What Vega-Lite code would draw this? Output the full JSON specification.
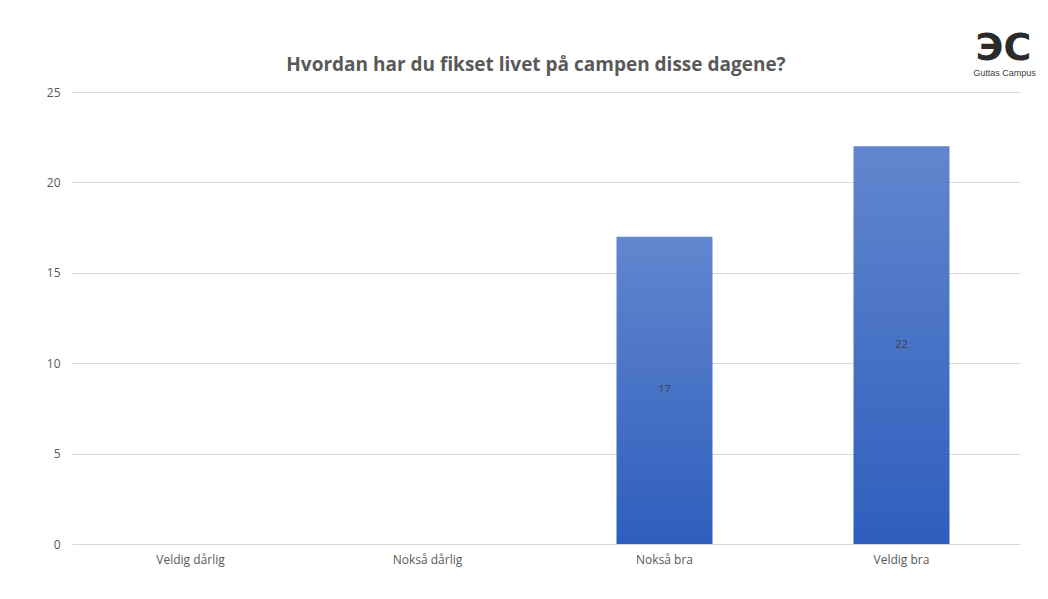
{
  "$schema": "https://vega.github.io/schema/vega-lite/v6.json",
  "autosize": "none",
  "width": 948,
  "height": 452,
  "padding": {"left": 72, "top": 92, "right": 28, "bottom": 55},
  "background": "white",
  "config": {"view": {"stroke": null}, "font": "Open Sans"},
  "title": {
    "text": "Hvordan har du fikset livet på campen disse dagene?",
    "fontSize": 19,
    "fontWeight": "bold",
    "font": "Open Sans",
    "color": "#595959",
    "offset": 17,
    "dx": -10,
    "dy": 62
  },
  "data": {
    "values": [
      {"category": "Veldig dårlig", "value": 0},
      {"category": "Nokså dårlig", "value": 0},
      {"category": "Nokså bra", "value": 17},
      {"category": "Veldig bra", "value": 22}
    ]
  },
  "layer": [
    {
      "mark": {
        "type": "bar",
        "color": {
          "gradient": "linear",
          "x1": 0, "y1": 0, "x2": 0, "y2": 1,
          "stops": [
            {"offset": 0, "color": "#6286ce"},
            {"offset": 1, "color": "#2e5ebd"}
          ]
        }
      },
      "encoding": {
        "x": {
          "field": "category",
          "type": "nominal",
          "sort": null,
          "scale": {"paddingInner": 0.595, "paddingOuter": 0.2975},
          "axis": {
            "title": null,
            "labelAngle": 0,
            "labelColor": "#595959",
            "labelFontSize": 12,
            "labelPadding": 10,
            "ticks": false,
            "domain": false,
            "grid": false
          }
        },
        "y": {
          "field": "value",
          "type": "quantitative",
          "scale": {"domain": [0, 25]},
          "axis": {
            "title": null,
            "values": [0, 5, 10, 15, 20, 25],
            "labelColor": "#595959",
            "labelFontSize": 12,
            "labelPadding": 12,
            "ticks": false,
            "domain": false,
            "gridColor": "#d9d9d9",
            "gridWidth": 1
          }
        }
      }
    },
    {
      "transform": [{"filter": "datum.value > 0"}],
      "mark": {"type": "text", "color": "#404040", "fontSize": 11, "baseline": "middle"},
      "encoding": {
        "x": {"field": "category", "type": "nominal", "sort": null},
        "y": {"field": "value", "type": "quantitative", "scale": {"domain": [0, 50]}, "axis": null},
        "text": {"field": "value", "type": "quantitative"}
      }
    },
    {
      "data": {"values": [{"category": "Veldig bra", "logo": "ЭC", "name": "Guttas Campus", "pos": 25}]},
      "layer": [
        {
          "mark": {"type": "text", "fontSize": 38, "fontWeight": "bold", "font": "DejaVu Sans", "color": "#2b2b2b", "dx": 102, "dy": -43, "baseline": "middle", "clip": false},
          "encoding": {
            "x": {"field": "category", "type": "nominal", "sort": null},
            "y": {"field": "pos", "type": "quantitative", "scale": {"domain": [0, 25]}, "axis": null},
            "text": {"field": "logo"}
          }
        },
        {
          "mark": {"type": "text", "fontSize": 9, "font": "Liberation Sans", "color": "#404040", "dx": 103, "dy": -19, "baseline": "middle", "clip": false},
          "encoding": {
            "x": {"field": "category", "type": "nominal", "sort": null},
            "y": {"field": "pos", "type": "quantitative", "scale": {"domain": [0, 25]}, "axis": null},
            "text": {"field": "name"}
          }
        }
      ]
    }
  ],
  "resolve": {"scale": {"y": "independent"}}
}
